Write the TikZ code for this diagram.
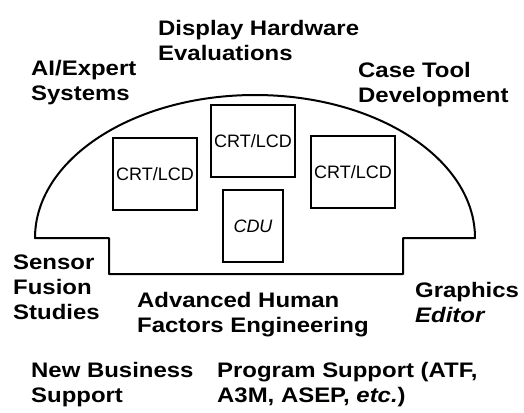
\documentclass[tikz,border=0pt]{standalone}
\usepackage{fontspec}
\setmainfont{Liberation Sans}
\newfontfamily\widesans[FakeStretch=1.14]{Liberation Sans}
\begin{document}
\begin{tikzpicture}[x=1pt,y=-1pt,
  lbl/.style={font=\widesans\fontsize{21}{25}\selectfont\bfseries, align=left, anchor=north west, inner sep=0pt},
  scr/.style={draw, line width=1.8pt, minimum width=84pt, minimum height=72pt, inner sep=0pt,
    font=\fontsize{18}{18}\selectfont},
  outline/.style={draw, line width=2pt, line join=round}]
\useasboundingbox (0,0) rectangle (524,412);
% dome console outline
\draw[outline] (35,238) arc[start angle=180, end angle=360, x radius=220, y radius=143]
  -- (403,238) -- (403,274) -- (109,274) -- (109,238) -- cycle;
% screens
\node[scr] (crtL) at (155,174) {CRT/LCD};
\node[scr] (crtT) at (253,141) {CRT/LCD};
\node[scr] (crtR) at (353,172) {CRT/LCD};
\node[scr, minimum width=60pt, font=\fontsize{18}{18}\selectfont\itshape] (cdu) at (253,226) {CDU};
% labels
\node[lbl] (disp) at (158,20) {Display Hardware\\Evaluations};
\node[lbl] (ai) at (31,60) {AI/Expert\\Systems};
\node[lbl] (case) at (358,62) {Case Tool\\Development};
\node[lbl] (sens) at (13,255) {Sensor\\Fusion\\Studies};
\node[lbl] (ahf) at (137,292) {Advanced Human\\Factors Engineering};
\node[lbl] (graph) at (415,282) {Graphics\\\textit{Editor}};
\node[lbl] (nbs) at (31,362) {New Business\\Support};
\node[lbl] (prog) at (217,362) {Program Support (ATF,\\A3M, ASEP, \textit{etc.})};
\end{tikzpicture}
\end{document}
